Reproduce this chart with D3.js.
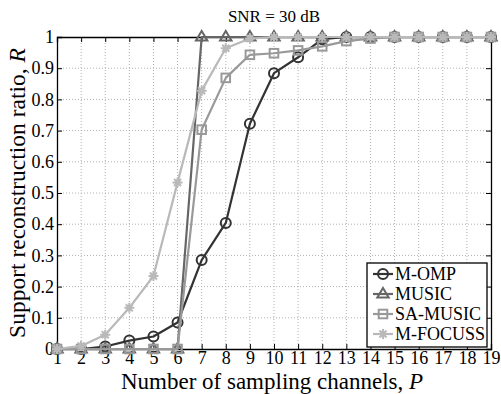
<!DOCTYPE html>
<html><head><meta charset="utf-8">
<script src="https://cdn.jsdelivr.net/npm/d3@7"></script>
<style>
body{margin:0;background:#fff;}
svg{display:block;}
svg text{font-family:"Liberation Serif","Times New Roman",Times,serif;}
</style></head><body>
<svg id="c" width="501" height="394"></svg>
<script>
const channels = [1,2,3,4,5,6,7,8,9,10,11,12,13,14,15,16,17,18,19];
const mOMP    = [0,0,0.008,0.027,0.04,0.085,0.285,0.404,0.722,0.884,0.935,0.993,1,1,1,1,1,1,1];
const music   = [0,0,0,0,0,0,1,1,1,1,1,1,1,1,1,1,1,1,1];
const saMusic = [0,0,0,0,0,0,0.703,0.869,0.943,0.948,0.957,0.97,0.987,0.995,1,1,1,1,1];
const mFocuss = [0,0.01,0.046,0.132,0.234,0.534,0.828,0.964,0.995,1,1,1,1,1,1,1,1,1,1];
const seriesNames = ["M-OMP","MUSIC","SA-MUSIC","M-FOCUSS"];
const yTicks = [0,0.1,0.2,0.3,0.4,0.5,0.6,0.7,0.8,0.9,1];
const yTickLabels = ["0","0.1","0.2","0.3","0.4","0.5","0.6","0.7","0.8","0.9","1"];
const titleText = "SNR = 30 dB";

const svg = d3.select("#c");
const L=57, R=491, T=37, B=349;
const x = d3.scaleLinear().domain([1,19]).range([L,R]);
const y = d3.scaleLinear().domain([0,1]).range([B,T]);

// grid
const g = svg.append("g");
g.selectAll("line.gx").data(channels.slice(1,-1)).enter().append("line")
  .attr("x1",d=>x(d)).attr("x2",d=>x(d)).attr("y1",T).attr("y2",B)
  .attr("stroke","#b0b0b0").attr("stroke-width",1).attr("stroke-dasharray","1,2");
g.selectAll("line.gy").data(yTicks.slice(1,-1)).enter().append("line")
  .attr("x1",L).attr("x2",R).attr("y1",d=>y(d)).attr("y2",d=>y(d))
  .attr("stroke","#b0b0b0").attr("stroke-width",1).attr("stroke-dasharray","1,2");

// axes
const fs = "18px";
const ax = svg.append("g").attr("transform",`translate(0,${B})`)
  .call(d3.axisBottom(x).tickValues(channels).tickFormat(d3.format("d")).tickSize(-5).tickPadding(2));
const axT = svg.append("g").attr("transform",`translate(0,${T})`)
  .call(d3.axisTop(x).tickValues(channels).tickFormat("").tickSize(-5));
const ay = svg.append("g").attr("transform",`translate(${L},0)`)
  .call(d3.axisLeft(y).tickValues(yTicks).tickFormat((d,i)=>yTickLabels[i]).tickSize(-5).tickPadding(3));
const ayR = svg.append("g").attr("transform",`translate(${R},0)`)
  .call(d3.axisRight(y).tickValues(yTicks).tickFormat("").tickSize(-5));
[ax,axT,ay,ayR].forEach(a=>{
  a.attr("font-family",null).attr("font-size",null);
  a.selectAll("path").attr("stroke","#000").attr("stroke-width",1.3);
  a.selectAll("line").attr("stroke","#000").attr("stroke-width",1);
  a.selectAll("text").style("font-size",fs).attr("fill","#000");
});

// series
const colors = ["#333333","#666666","#999999","#b9b9b9"];
const datas = [mOMP,music,saMusic,mFocuss];
const line = d3.line().x((d,i)=>x(channels[i])).y(d=>y(d));

function marker(sel, k, cx, cy, scale){
  const c = colors[k];
  const s = scale||1;
  if(k===0){
    sel.append("circle").attr("cx",cx).attr("cy",cy).attr("r",5*s)
      .attr("fill","none").attr("stroke",c).attr("stroke-width",2);
  } else if(k===1){
    const r=6*s;
    sel.append("path").attr("d",`M${cx},${cy-r}L${cx+r*0.95},${cy+r*0.6}L${cx-r*0.95},${cy+r*0.6}Z`)
      .attr("fill","none").attr("stroke",c).attr("stroke-width",2);
  } else if(k===2){
    const r=4.3*s;
    sel.append("rect").attr("x",cx-r).attr("y",cy-r).attr("width",2*r).attr("height",2*r)
      .attr("fill","none").attr("stroke",c).attr("stroke-width",2);
  } else {
    const r=5*s;
    let d="";
    for(let a=0;a<4;a++){
      const t=a*Math.PI/4;
      d+=`M${cx-r*Math.cos(t)},${cy-r*Math.sin(t)}L${cx+r*Math.cos(t)},${cy+r*Math.sin(t)}`;
    }
    sel.append("circle").attr("cx",cx).attr("cy",cy).attr("r",2.8*s).attr("fill",c);
    sel.append("path").attr("d",d).attr("stroke",c).attr("stroke-width",2).attr("fill","none");
  }
}

datas.forEach((arr,k)=>{
  const gg = svg.append("g");
  gg.append("path").datum(arr).attr("d",line).attr("fill","none")
    .attr("stroke",colors[k]).attr("stroke-width",2.2).attr("stroke-linejoin","round");
  arr.forEach((v,i)=>marker(gg,k,x(channels[i]),y(v)));
});

// title
svg.append("text").attr("x",(L+R)/2).attr("y",22).attr("text-anchor","middle")
  .style("font-size","17px").text(titleText);

// axis labels
const xl = svg.append("text").attr("x",(L+R)/2-2).attr("y",389).attr("text-anchor","middle").style("font-size","23px");
xl.append("tspan").text("Number of sampling channels, ");
xl.append("tspan").attr("font-style","italic").text("P");
const yl = svg.append("text").attr("transform","translate(25,193) rotate(-90)").attr("text-anchor","middle").style("font-size","23.5px");
yl.append("tspan").text("Support reconstruction ratio, ");
yl.append("tspan").attr("font-style","italic").text("R");

// legend
const lg = svg.append("g");
lg.append("rect").attr("x",367).attr("y",263).attr("width",120).attr("height",84)
  .attr("fill","#fff").attr("stroke","#000").attr("stroke-width",1.3);
seriesNames.forEach((n,k)=>{
  const yy = 274 + k*20;
  lg.append("line").attr("x1",373).attr("x2",393).attr("y1",yy).attr("y2",yy)
    .attr("stroke",colors[k]).attr("stroke-width",2.2);
  marker(lg,k,383,yy);
  lg.append("text").attr("x",395).attr("y",yy).attr("dy","0.35em").style("font-size","18px").text(n);
});
</script>
</body></html>
